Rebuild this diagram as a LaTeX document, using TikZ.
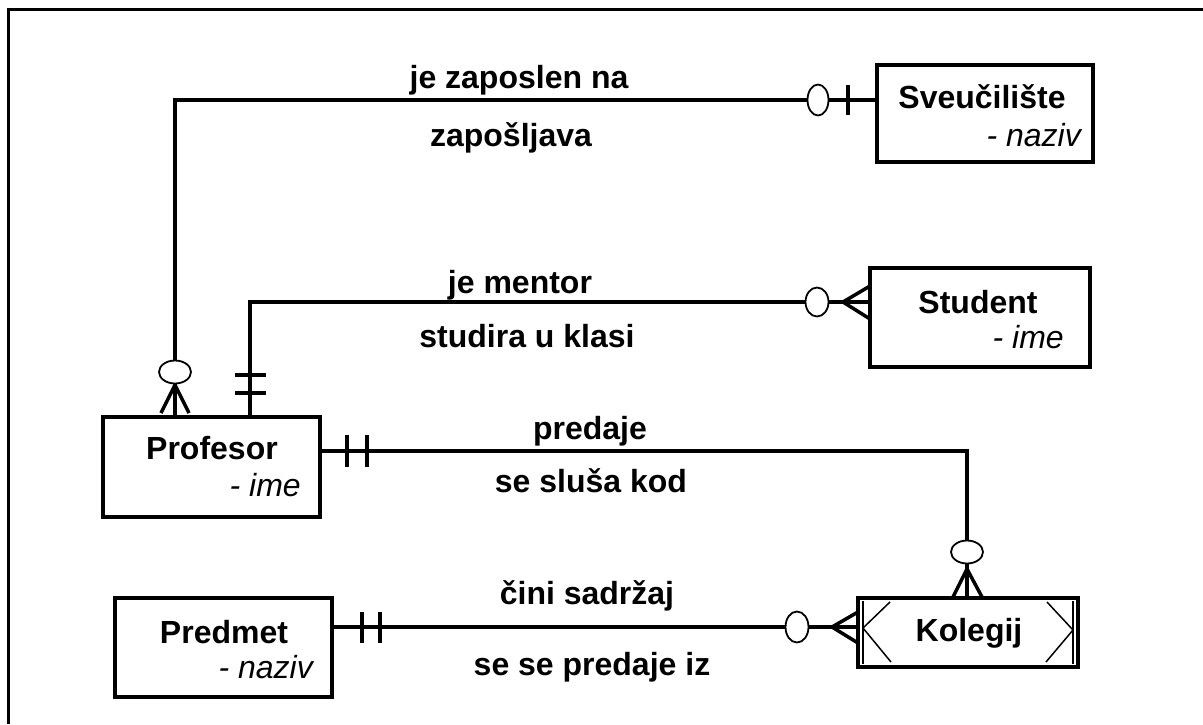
\documentclass[tikz,border=0pt]{standalone}
\usepackage{fontspec}
\setmainfont{Liberation Sans}
\begin{document}
\begin{tikzpicture}[x=1pt,y=-1pt,
 ent/.style={draw, line width=3.5pt, inner sep=0pt},
 rel/.style={line width=3.5pt},
 lbl/.style={font=\fontsize{32}{36}\selectfont\bfseries, inner sep=0pt, text height=23pt, text depth=0pt},
 attr/.style={font=\fontsize{32}{36}\selectfont\itshape, inner sep=0pt, text height=23pt, text depth=0pt, anchor=east},
 oval/.style={draw, line width=1.8pt, fill=white},
 bar/.style={line width=3.5pt},
 thinl/.style={line width=1.5pt}]
\useasboundingbox (0,0) rectangle (1203,724);
\draw[line width=3pt] (8,724) -- (8,9) -- (1203,9);

% entities
\node[ent, minimum width=216, minimum height=97] (sveu) at (985,113.5) {};
\node[ent, minimum width=220, minimum height=99] (stud) at (980,317.5) {};
\node[ent, minimum width=217, minimum height=100] (prof) at (211.5,467) {};
\node[ent, minimum width=217, minimum height=99] (pred) at (223.5,647.5) {};
\node[ent, line width=4.5pt, minimum width=220, minimum height=69] (kol) at (968,632.5) {};

% Kolegij inner marks
\draw[thinl] (863,601) -- (863,664);
\draw[thinl] (1073,601) -- (1073,664);
\draw[thinl] (890,602) -- (863,628) -- (891,662);
\draw[thinl] (1047,602) -- (1073,630) -- (1046,662);

% entity texts
\node[lbl] (tsveu) at (982,97) {Sveučilište};
\node[attr] (asveu) at (1081,135) {- naziv};
\node[lbl] (tstud) at (978,302) {Student};
\node[attr] (astud) at (1064,337) {- ime};
\node[lbl] (tprof) at (212,448) {Profesor};
\node[attr] (aprof) at (301,485) {- ime};
\node[lbl] (tpred) at (224,632) {Predmet};
\node[attr] (apred) at (313,667) {- naziv};
\node[lbl] (tkol) at (969,630) {Kolegij};

% connectors
\coordinate (c1) at (175,100);
\coordinate (c2) at (250,302);
\coordinate (c3) at (967,451);
\coordinate (c4) at (0,627);
\draw[rel] (prof.north -| c1) -- (c1) -- (sveu.west |- c1);
\draw[rel] (prof.north -| c2) -- (c2) -- (stud.west |- c2);
\draw[rel] (prof.east |- c3) -- (c3) -- (kol.north -| c3);
\draw[rel] (pred.east |- c4) -- (kol.west |- c4);

% Profesor - Sveuciliste
\draw[oval] (818,100) ellipse (10.5 and 15.5);
\draw[bar] (848,85) -- (848,115);
\draw[oval] (175,372) ellipse (16 and 11.5);
\draw[rel] (175,385) -- (161,413) (175,385) -- (189,413);

% Profesor - Student
\draw[bar] (235,375) -- (266,375) (235,393) -- (266,393);
\draw[oval] (817,302) ellipse (11.5 and 14.5);
\draw[rel] (843,302) -- (870,286) (843,302) -- (870,319);

% Profesor - Kolegij
\draw[bar] (347,435) -- (347,467) (367,435) -- (367,467);
\draw[oval] (967,552) ellipse (16 and 11.5);
\draw[rel] (967,569) -- (953,597) (967,569) -- (982,597);

% Predmet - Kolegij
\draw[bar] (362,612) -- (362,643) (380,612) -- (380,643);
\draw[oval] (797,627) ellipse (11.5 and 15.5);
\draw[rel] (832,627) -- (858,612) (832,627) -- (858,643);

% relation labels
\node[lbl] (l1) at (519,77) {je zaposlen na};
\node[lbl] (l2) at (511,135) {zapošljava};
\node[lbl] (l3) at (520,282) {je mentor};
\node[lbl] (l4) at (527,336) {studira u klasi};
\node[lbl] (l5) at (590,428) {predaje};
\node[lbl] (l6) at (591,481) {se sluša kod};
\node[lbl] (l7) at (587,593) {čini sadržaj};
\node[lbl] (l8) at (592,664) {se se predaje iz};
\end{tikzpicture}
\end{document}
